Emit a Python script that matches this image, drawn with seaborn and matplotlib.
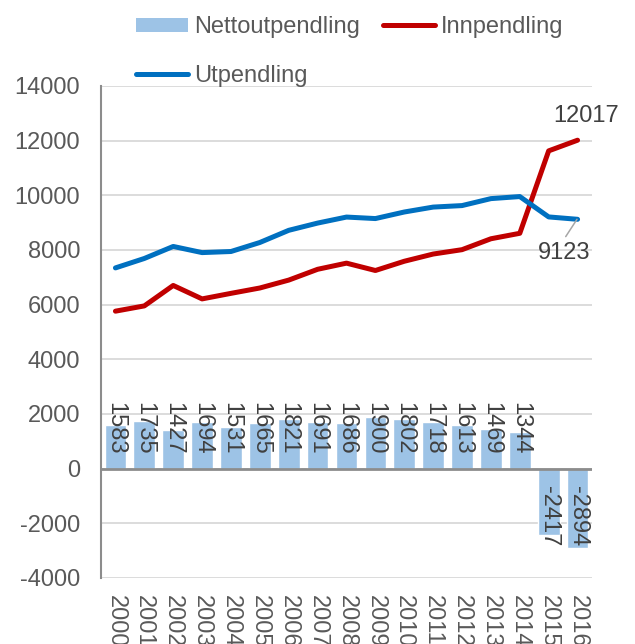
import numpy as np
import pandas as pd
import matplotlib
matplotlib.use("Agg")
import matplotlib.pyplot as plt
from matplotlib.patches import Patch
from matplotlib.lines import Line2D
import seaborn as sns

years = ["2000", "2001", "2002", "2003", "2004", "2005", "2006", "2007", "2008",
         "2009", "2010", "2011", "2012", "2013", "2014", "2015", "2016"]
netto = [1583, 1735, 1427, 1694, 1531, 1665, 1821, 1691, 1686, 1900, 1802,
         1718, 1613, 1469, 1344, -2417, -2894]
utpendling = [7345, 7690, 8130, 7905, 7945, 8275, 8720, 8985, 9205, 9150, 9390,
              9570, 9625, 9880, 9955, 9210, 9123]
innpendling = [5762, 5955, 6703, 6211, 6414, 6610, 6899, 7294, 7519, 7250, 7588,
               7852, 8012, 8411, 8611, 11627, 12017]
yticks = list(range(-4000, 14001, 2000))

sns.set_theme(style="white")
plt.rcParams["font.family"] = ["Liberation Sans", "DejaVu Sans"]

FS = 17
TXT = "#595959"
LBL = "#404040"
BAR_C = "#9DC3E6"
RED = "#C00000"
BLUE = "#0070C0"
LW = 3.6

fig = plt.figure(figsize=(6.35, 6.44), dpi=100)
ax = fig.add_axes([101 / 635, 1 - 578 / 644, (592 - 101) / 635, (578 - 86) / 644])

df = pd.DataFrame({"year": years, "netto": netto})
sns.barplot(data=df, x="year", y="netto", color=BAR_C, saturation=1, width=0.75, ax=ax, zorder=2)
xs = np.arange(len(years))
sns.lineplot(x=xs, y=innpendling, color=RED, linewidth=LW, ax=ax, zorder=3)
sns.lineplot(x=xs, y=utpendling, color=BLUE, linewidth=LW, ax=ax, zorder=3)
for l in ax.lines:
    l.set_solid_capstyle("round")
    l.set_solid_joinstyle("round")

ax.set_xlim(-0.5, len(years) - 0.5)
ax.set_ylim(-4000, 14000)
ax.set_yticks(yticks)
ax.set_yticklabels([str(v) for v in yticks], fontsize=FS, color=TXT)
ax.set_xticks(xs)
ax.set_xticklabels(years, rotation=270, fontsize=FS, color=TXT, va="top", ha="center")
ax.tick_params(axis="y", length=0, pad=15)
ax.tick_params(axis="x", length=0, pad=12)
ax.set_xlabel("")
ax.set_ylabel("")
ax.grid(axis="y", color="#D9D9D9", linewidth=1.3, zorder=0)
ax.set_axisbelow(True)
for s in ["top", "right", "bottom"]:
    ax.spines[s].set_visible(False)
ax.spines["left"].set_color("#8C8C8C")
ax.spines["left"].set_linewidth(1.5)
ax.axhline(0, color="#8C8C8C", linewidth=2, zorder=2.5)

# bar value labels
for i, v in enumerate(netto):
    y0 = 2450 if v >= 0 else -620
    ax.text(i, y0, str(v), rotation=270, ha="center", va="top", fontsize=FS, color=LBL, zorder=4)

# end labels
n = len(years) - 1
ax.text(n + 0.28, innpendling[-1] + 500, str(innpendling[-1]), ha="center", va="bottom",
        fontsize=FS, color=LBL)
ax.plot([n - 0.02, n - 0.41], [utpendling[-1], 8490], color="#A6A6A6", linewidth=1.1, zorder=4)
ax.text(n - 0.45, 8290, str(utpendling[-1]), ha="center", va="top", fontsize=FS, color=LBL)

handles = [Patch(facecolor=BAR_C, edgecolor="none"),
           Line2D([0], [0], color=BLUE, linewidth=LW, solid_capstyle="round"),
           Line2D([0], [0], color=RED, linewidth=LW, solid_capstyle="round")]
labels = ["Nettoutpendling", "Utpendling", "Innpendling"]
fig.legend(handles, labels, ncol=2, loc="upper left", bbox_to_anchor=(136 / 635, 1 - 16 / 644),
           frameon=False, fontsize=FS, labelcolor=TXT, handlelength=2.2, handleheight=0.55,
           handletextpad=0.25, columnspacing=1.0, labelspacing=1.13, borderpad=0, borderaxespad=0)

fig.savefig("out.png", dpi=100)
